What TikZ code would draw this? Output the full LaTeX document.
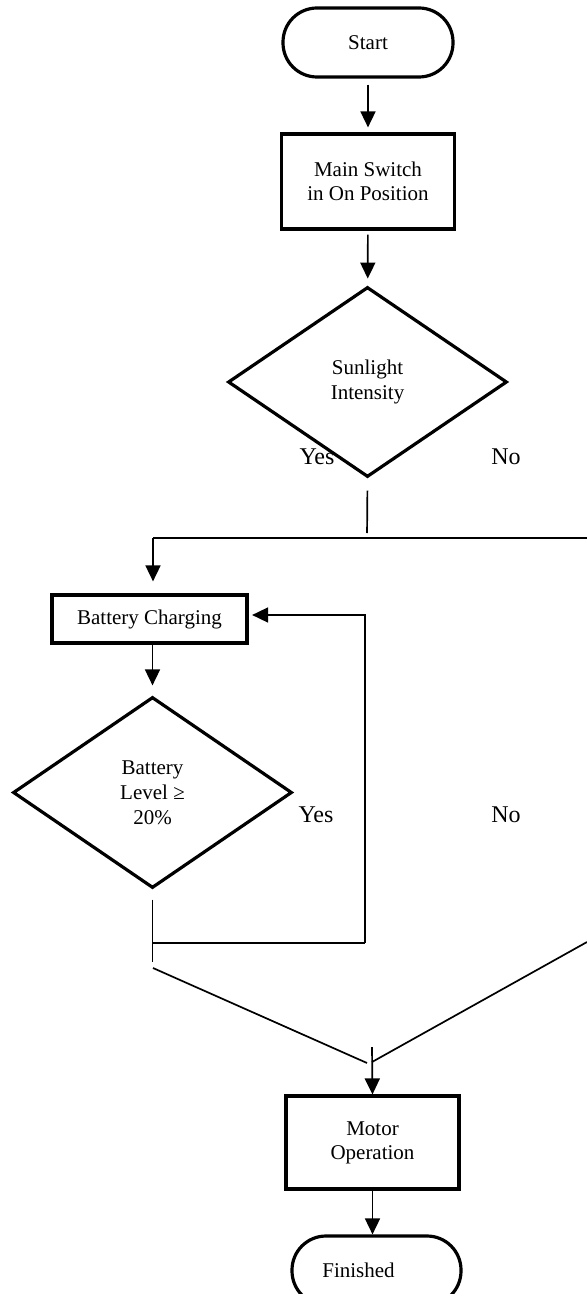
\documentclass[tikz,border=0pt]{standalone}
\usepackage{fontspec}
\setmainfont{Liberation Serif}
\usetikzlibrary{shapes.geometric,arrows.meta}

\begin{document}
\begin{tikzpicture}[x=0.5pt,y=-0.5pt,
  term/.style={draw, line width=1.6pt, rounded corners=17pt, inner sep=0pt, minimum width=85pt, minimum height=34.5pt, font=\fontsize{10.5}{12}\selectfont},
  proc/.style={draw, line width=1.6pt, align=center, inner sep=0pt, font=\fontsize{10.5}{12}\selectfont},
  decide/.style={diamond, draw, line width=1.6pt, align=center, inner sep=0pt, minimum width=139.5pt, minimum height=95pt, font=\fontsize{10.5}{12.5}\selectfont},
  flow/.style={line width=0.85pt, -{Triangle[length=8pt,width=7.5pt]}},
  wire/.style={line width=0.85pt},
  lab/.style={font=\fontsize{12}{14}\selectfont}]

\useasboundingbox (0,0) rectangle (587,1294);
\fill[white] (0,0) rectangle (587,1294);

% --- boxes ---
\node[term] (f-start) at (368,42.5) {Start};
\node[proc, minimum width=86.5pt, minimum height=47.5pt] (f-switch) at (368,181.5) {Main Switch\\in On Position};
\node[decide] (f-sun) at (367.5,382) {Sunlight\\Intensity};
\node[proc, minimum width=97.5pt, minimum height=24pt] (f-charge) at (149.5,619) {Battery Charging};
\node[decide, minimum height=95.5pt] (f-batt) at (152.5,792.5) {Battery\\Level ≥\\20\%};
\node[proc, minimum width=86.5pt, minimum height=46.5pt] (f-motor) at (372.5,1142.5) {Motor\\Operation};
\node[term, minimum width=84.5pt] (f-end) at (376.5,1270.5) {Finished\hspace*{18pt}};

% --- branch points ---
\coordinate (sun-out) at (367,538);
\coordinate (br-l) at (153,538);
\coordinate (br-r) at (587,538);
\coordinate (loop-t) at (365,615);
\coordinate (loop-b) at (365,943);
\coordinate (batt-b) at (152.5,943);
\coordinate (batt-o) at (152.5,962);
\coordinate (mg-l) at (153,968);
\coordinate (mg-lx) at (367,1063);
\coordinate (mg-r) at (587,942);
\coordinate (mg-rx) at (372,1062);
\coordinate (mg-top) at (372,1047);

% --- connectors ---
\draw[flow, shorten <=3pt, shorten >=2.5pt] (f-start) -- (f-switch);
\draw[flow, shorten <=2pt, shorten >=3.5pt] (f-switch) -- (f-sun);
\draw[wire, shorten <=6pt, shorten >=2.5pt] (f-sun.south) -- (sun-out);
\draw[wire] (br-l) -- (br-r);
\draw[flow, shorten >=6pt] (br-l) -- (br-l |- f-charge.north);
\draw[flow, shorten >=1.75pt] (loop-b) -- (loop-t) -- (f-charge.east |- loop-t);
\draw[flow, shorten >=5pt] (f-batt |- f-charge.south) -- (f-batt.north);
\draw[wire, shorten <=5pt] (f-batt.south) -- (batt-o);
\draw[wire] (batt-b) -- (loop-b);
\draw[wire] (mg-l) -- (mg-lx);
\draw[wire] (mg-r) -- (mg-rx);
\draw[flow] (mg-top) -- (f-motor.north);
\draw[flow] (f-motor.south) -- (f-motor.south |- f-end.north);

% --- yes / no labels ---
\foreach \x/\y/\t [count=\i] in {317/457/Yes,506/457/No,316/815/Yes,506/815/No}
  \node[lab] (lbl-\i) at (\x,\y) {\t};
\end{tikzpicture}
\end{document}
